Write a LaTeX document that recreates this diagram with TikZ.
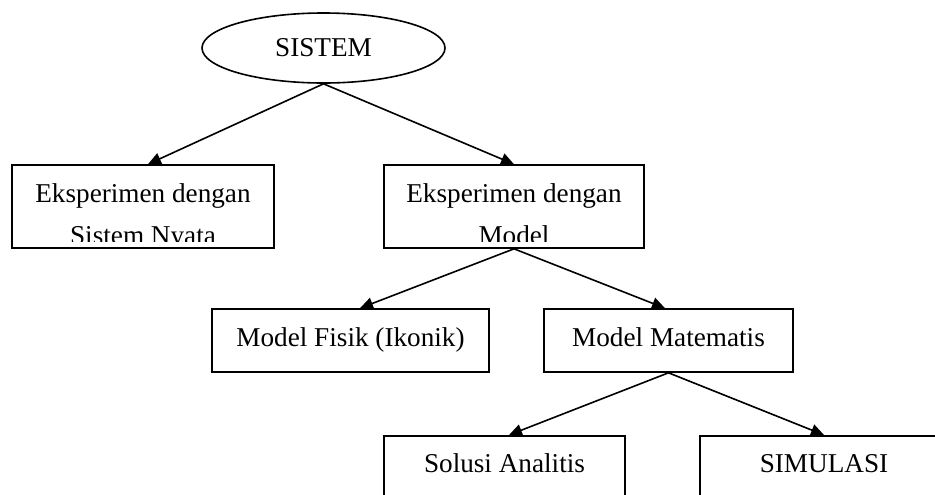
\documentclass[tikz,border=0pt]{standalone}
\usepackage{fontspec}
\setmainfont{Liberation Serif}
\usetikzlibrary{arrows.meta,shapes.geometric}
\tikzset{
  px/.style={x=0.5pt,y=-0.5pt},
  txt/.style={font=\fontsize{13.6}{21}\selectfont},
  sys/.style={ellipse,draw,line width=0.8pt,txt,minimum width=121.5pt,minimum height=35pt,inner sep=0pt},
  box/.style={rectangle,draw,line width=0.8pt,txt,inner sep=0pt,text height=9pt,text depth=3pt},
  cutbox/.style 2 args={box,path picture={
      \clip ([yshift=3.5pt]path picture bounding box.south west) rectangle (path picture bounding box.north east);
      \node[txt,anchor=base] at ([yshift=-18.5pt]path picture bounding box.north) {#1};
      \node[txt,anchor=base] at ([yshift=-39.5pt]path picture bounding box.north) {#2};
    }},
  lowbox/.style={box,anchor=north,inner ysep=9.5pt,text depth=40pt},
  link/.style={-{Triangle[length=6.5pt,width=6pt]},line width=0.8pt}
}
\begin{document}
\begin{tikzpicture}[px]
  \useasboundingbox (0,0) rectangle (935,494);
  \node[sys] (sistem) at (323.5,48) {SISTEM};
  \node[cutbox={Eksperimen dengan}{Sistem Nyata},minimum width=131pt,minimum height=41.5pt] (nyata) at (143,206.5) {};
  \node[cutbox={Eksperimen dengan}{Model},minimum width=130pt,minimum height=41.5pt] (model) at (514,206.5) {};
  \node[box,minimum width=138.5pt,minimum height=31.5pt] (fisik) at (350.5,340.5) {Model Fisik (Ikonik)};
  \node[box,minimum width=124.5pt,minimum height=31.5pt] (matematis) at (668.5,340.5) {Model Matematis};
  % bottom row runs past the page edge
  \node[lowbox,minimum width=120.5pt] (analitis) at (504.5,435) {Solusi Analitis};
  \node[lowbox,minimum width=124pt] (simulasi) at (824,435) {SIMULASI};
  \draw[link] (sistem.south) -- ([xshift=2.5pt]nyata.north);
  \draw[link] (sistem.south) -- (model.north);
  \draw[link] (model.south) -- ([xshift=4.75pt]fisik.north);
  \draw[link] (model.south) -- ([xshift=-1.75pt]matematis.north);
  \draw[link] (matematis.south) -- ([xshift=2.25pt]analitis.north);
  \draw[link] (matematis.south) -- (simulasi.north);
\end{tikzpicture}
\end{document}
